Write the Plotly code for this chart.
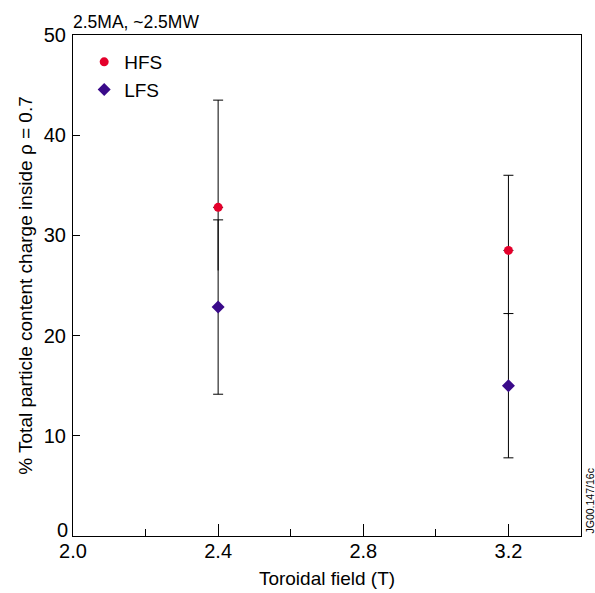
import plotly.graph_objects as go

field = [2.4, 3.2]
hfs = [32.8, 28.5]
hfs_plus = [10.7, 7.5]
hfs_minus = [6.3, 6.5]
lfs = [22.85, 15.0]
lfs_err = [8.7, 7.2]

x_ticks = [2.0, 2.4, 2.8, 3.2]
x_minor = [2.2, 2.6, 3.0]
y_ticks = [0, 10, 20, 30, 40, 50]

FONT = "Liberation Sans, Arial, sans-serif"
HFS_COL = "#e4002b"
LFS_COL = "#3a0a8a"

fig = go.Figure()
# HFS lower error (no cap)
fig.add_trace(go.Scatter(x=field, y=hfs, mode="markers", showlegend=False,
                         marker=dict(size=1, color="rgba(0,0,0,0)"),
                         error_y=dict(type="data", symmetric=False, array=[0, 0],
                                      arrayminus=hfs_minus, width=0,
                                      color="black", thickness=1)))
# LFS
fig.add_trace(go.Scatter(x=field, y=lfs, mode="markers", name="LFS",
                         marker=dict(symbol="diamond", size=10, color=LFS_COL),
                         error_y=dict(type="data", array=lfs_err, width=5,
                                      color="black", thickness=1)))
# HFS
fig.add_trace(go.Scatter(x=field, y=hfs, mode="markers", name="HFS",
                         marker=dict(symbol="circle", size=9, color=HFS_COL),
                         error_y=dict(type="data", symmetric=False, array=hfs_plus,
                                      arrayminus=[0, 0], width=5,
                                      color="black", thickness=1)))

y_text = [("" if v == 0 else str(v)) for v in y_ticks]

fig.update_layout(
    width=595, height=593,
    margin=dict(l=73, r=14, t=35, b=57, autoexpand=False),
    paper_bgcolor="white", plot_bgcolor="white",
    font=dict(family=FONT, size=19, color="black"),
    legend=dict(x=0.022, y=0.984, xanchor="left", yanchor="top",
                traceorder="reversed", bgcolor="rgba(0,0,0,0)",
                font=dict(size=19), itemwidth=30, tracegroupgap=0),
    xaxis=dict(range=[2.0, 3.4], tickvals=x_ticks,
               ticktext=[f"{v:.1f}" for v in x_ticks],
               ticks="inside", ticklen=12, tickcolor="black", tickwidth=1,
               minor=dict(tickvals=x_minor, ticks="inside", ticklen=7,
                          tickcolor="black", tickwidth=1, showgrid=False),
               showline=True, linecolor="black", linewidth=1, mirror=True,
               showgrid=False, zeroline=False, automargin=False,
               tickfont=dict(size=20), ticklabelstandoff=-3,
               title=dict(text="Toroidal field (T)", font=dict(size=19), standoff=10)),
    yaxis=dict(range=[0, 50], tickvals=y_ticks, ticktext=y_text,
               ticks="inside", ticklen=7, tickcolor="black", tickwidth=1,
               showline=True, linecolor="black", linewidth=1, mirror=True,
               showgrid=False, zeroline=False, automargin=False,
               tickfont=dict(size=20), ticklabelstandoff=2,
               title=dict(text="% Total particle content charge inside \u03c1 = 0.7",
                          font=dict(size=19), standoff=6)),
    annotations=[
        dict(text="2.5MA, ~2.5MW", x=0, y=1, xref="paper", yref="paper",
             xanchor="left", yanchor="bottom", showarrow=False,
             font=dict(size=17.5), yshift=1, xshift=-2),
        dict(text="0", x=0, y=y_ticks[0], xref="paper", yref="y",
             xanchor="right", yanchor="bottom", showarrow=False,
             font=dict(size=20), xshift=-3, yshift=-7),
        dict(text="JG00.147/16c", x=1, y=0, xref="paper", yref="paper",
             xanchor="left", yanchor="bottom", showarrow=False, textangle=-90,
             font=dict(size=10.5), xshift=0),
    ],
)

fig.write_html("out.html")
